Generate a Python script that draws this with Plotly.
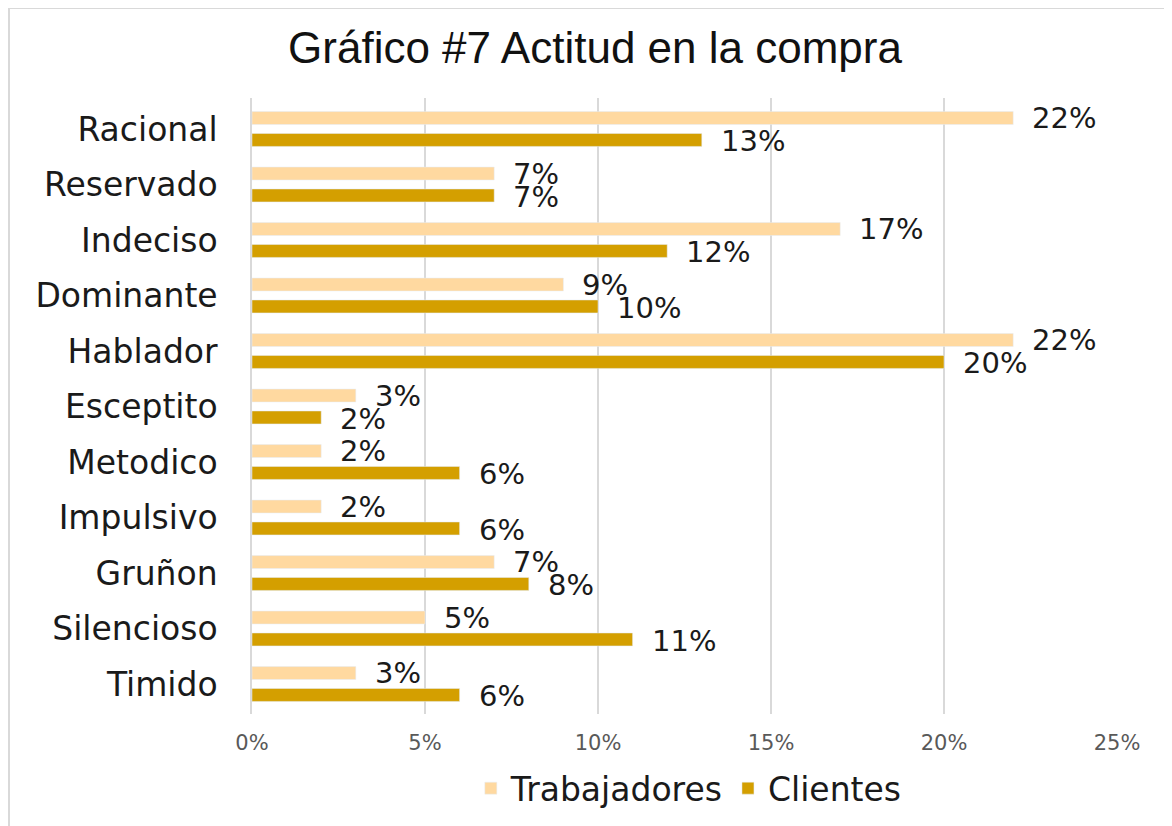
import plotly.graph_objects as go

categories = ["Racional", "Reservado", "Indeciso", "Dominante", "Hablador", "Esceptito",
              "Metodico", "Impulsivo", "Gruñon", "Silencioso", "Timido"]
trabajadores = [0.22, 0.07, 0.17, 0.09, 0.22, 0.03, 0.02, 0.02, 0.07, 0.05, 0.03]
clientes = [0.13, 0.07, 0.12, 0.10, 0.20, 0.02, 0.06, 0.06, 0.08, 0.11, 0.06]
x_ticks = [0, 0.05, 0.10, 0.15, 0.20, 0.25]
x_tick_labels = ["0%", "5%", "10%", "15%", "20%", "25%"]

C_TRAB = "#FFD9A0"
C_CLI = "#D49F00"
LABEL_FONT = "DejaVu Sans"

# page body has an 8px margin, so the figure is 8px smaller and offsets are shifted
W, H = 1164, 818
L, R, T, B = 244, 55, 90, 112
PW = W - L - R
PH = H - T - B

fig = go.Figure()
fig.add_trace(go.Bar(name="Trabajadores", y=categories, x=trabajadores, orientation="h",
                     marker=dict(color=C_TRAB), hoverinfo="x+y"))
fig.add_trace(go.Bar(name="Clientes", y=categories, x=clientes, orientation="h",
                     marker=dict(color=C_CLI), hoverinfo="x+y"))

annotations = []
for cat, v in zip(categories, trabajadores):
    annotations.append(dict(x=v, y=cat, xref="x", yref="y", text=f"{round(v*100)}%",
                            showarrow=False, xanchor="left", yanchor="middle",
                            xshift=17, yshift=11,
                            font=dict(family=LABEL_FONT, size=29, color="#1a1a1a")))
for cat, v in zip(categories, clientes):
    annotations.append(dict(x=v, y=cat, xref="x", yref="y", text=f"{round(v*100)}%",
                            showarrow=False, xanchor="left", yanchor="middle",
                            xshift=17, yshift=-12,
                            font=dict(family=LABEL_FONT, size=29, color="#1a1a1a")))

fig.update_layout(
    width=W, height=H,
    margin=dict(l=L, r=R, t=T, b=B, autoexpand=False),
    paper_bgcolor="white", plot_bgcolor="white",
    barmode="group", bargap=0.21, bargroupgap=0.41,
    title=dict(text="Gráfico #7 Actitud en la compra", x=587 / W, xref="container",
               y=1 - 40 / H, yref="container", xanchor="center", yanchor="middle",
               font=dict(family="Liberation Sans", size=44, color="#111111")),
    legend=dict(orientation="h", x=0.505, xanchor="center", y=-0.075, yanchor="top",
                font=dict(family=LABEL_FONT, size=33, color="#1a1a1a"),
                itemwidth=30, traceorder="normal"),
    annotations=annotations,
    shapes=[dict(type="rect", xref="paper", yref="paper",
                 x0=(1 - L) / PW, x1=(W + 20 - L) / PW,
                 y0=-(B + 20) / PH, y1=1 + (T - 0) / PH,
                 line=dict(color="#D9D9D9", width=2), layer="below")],
)
fig.update_xaxes(range=[0, 0.25], tickvals=x_ticks, ticktext=x_tick_labels,
                 showgrid=True, gridcolor="#D9D9D9", gridwidth=1.5, zeroline=False,
                 showline=False, ticklabelstandoff=14, automargin=False,
                 tickfont=dict(family=LABEL_FONT, size=21, color="#595959"))
fig.update_yaxes(categoryorder="array", categoryarray=categories, autorange="reversed",
                 showgrid=False, zeroline=False, showline=True, linecolor="#D9D9D9",
                 linewidth=1.5, ticklabelstandoff=26, automargin=False,
                 tickfont=dict(family=LABEL_FONT, size=33, color="#1a1a1a"))

fig.write_html("out.html")
